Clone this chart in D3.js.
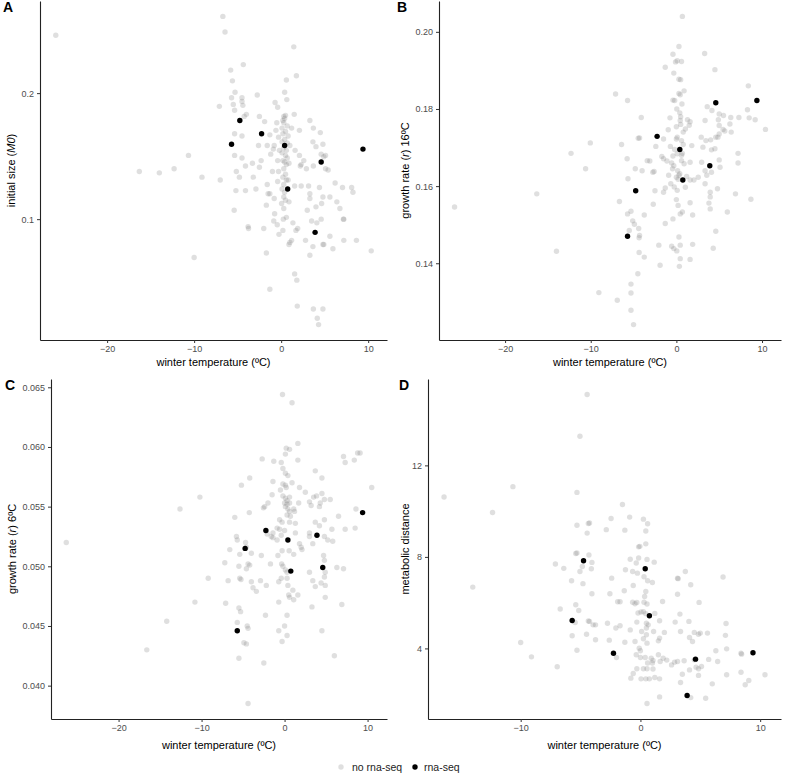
<!DOCTYPE html>
<html><head><meta charset="utf-8">
<script src="https://cdn.jsdelivr.net/npm/d3@7"></script>
<style>body{margin:0;background:#fff}svg{display:block}</style>
</head><body>
<svg id="chart" width="787" height="782"></svg>
<script>
// ---- data (winter temperature ºC, value) ----
const rnaTemp = [-5.7, -4.75, -2.25, 0.4, 0.75, 3.9, 4.6, 9.4];
const rnaSize = [0.151, 0.172, 0.160, 0.150, 0.118, 0.093, 0.137, 0.147];
const rnaGrowth16 = [0.147, 0.1588, 0.1729, 0.1695, 0.1616, 0.1653, 0.1816, 0.1822];
const rnaGrowth6 = [0.0446, 0.0515, 0.0530, 0.0522, 0.0496, 0.0526, 0.0499, 0.0545];
const rnaMetab = [5.22, 7.83, 3.79, 7.48, 5.43, 1.94, 3.53, 3.81];

const sizeNoRna = [[-25.9,0.275],[-6.7,0.305],[-6.45,0.280],[1.45,0.258],[-4.35,0.234],[-5.8,0.227],[1.75,0.220],[-5.6,0.214],[0.6,0.215],[0.4,0.201],[-5.3,0.201],[-2.75,0.198],[-5.7,0.195],[-4.5,0.195],[-4.5,0.191],[-5.5,0.188],[-4.4,0.187],[-7.1,0.186],[-0.7,0.190],[-0.4,0.185],[0.65,0.193],[-5.35,0.182],[-4.25,0.176],[-4.0,0.178],[-2.5,0.176],[-1.9,0.171],[1.5,0.178],[3.3,0.172],[3.7,0.165],[4.5,0.161],[2.1,0.163],[-1.3,0.159],[-4.5,0.158],[-5.35,0.160],[3.65,0.153],[4.8,0.151],[-5.35,0.142],[-4.5,0.140],[-3.3,0.136],[-4.1,0.134],[-5.15,0.130],[-4.8,0.126],[-2.5,0.133],[-3.2,0.126],[-10.65,0.142],[-16.3,0.130],[-14.0,0.129],[-12.3,0.132],[-9.1,0.126],[-7.0,0.124],[-5.2,0.117],[-4.1,0.117],[-2.9,0.118],[-1.5,0.115],[-1.3,0.115],[-1.7,0.108],[-5.4,0.105],[-3.8,0.096],[-3.75,0.095],[-2.0,0.095],[-10.0,0.081],[-1.7,0.083],[-1.3,0.068],[1.55,0.074],[1.8,0.0715],[1.85,0.062],[3.7,0.061],[4.8,0.061],[4.15,0.058],[4.3,0.056],[3.3,0.082],[3.65,0.086],[2.8,0.089],[4.8,0.087],[4.9,0.087],[5.6,0.091],[5.95,0.085],[7.2,0.089],[8.65,0.089],[10.35,0.084],[7.15,0.100],[7.2,0.100],[6.75,0.106],[6.4,0.110],[8.1,0.119],[8.25,0.116],[7.05,0.119],[6.2,0.122],[5.6,0.113],[4.8,0.113],[4.4,0.119],[3.15,0.120],[3.3,0.115],[3.3,0.112],[4.65,0.109],[4.0,0.107],[3.0,0.105],[3.5,0.099],[4.1,0.098],[4.6,0.100],[1.35,0.098],[1.7,0.094],[1.9,0.095],[1.2,0.089],[0.9,0.087],[1.0,0.088],[0.2,0.094],[-0.25,0.092],[-0.85,0.099],[-0.45,0.097],[0.25,0.100],[-0.75,0.103],[0.05,0.109],[0.3,0.106],[0.9,0.110],[0.6,0.101],[2.3,0.120],[1.55,0.120],[0.8,0.124],[-0.4,0.123],[2.2,0.134],[2.9,0.132],[3.7,0.134],[5.1,0.132],[5.4,0.131],[4.9,0.141],[5.1,0.142],[2.6,0.138],[2.3,0.135],[2.1,0.142],[4.0,0.149],[4.6,0.143],[0.9,0.136],[0.3,0.176],[0.4,0.174],[0.2,0.172],[0.5,0.177],[0.3,0.170],[-0.5,0.170],[0.7,0.167],[0.1,0.165],[-0.6,0.163],[0.5,0.162],[0.2,0.160],[0.8,0.158],[-0.3,0.157],[0.4,0.155],[0.1,0.153],[0.7,0.152],[-0.8,0.150],[0.3,0.148],[0.6,0.146],[-0.2,0.146],[0.1,0.144],[0.5,0.142],[0.7,0.140],[0.2,0.138],[-0.4,0.138],[0.4,0.137],[0.6,0.135],[0.3,0.132],[-0.3,0.130],[0.5,0.128],[0.2,0.126],[0.6,0.124],[0.3,0.121],[0.1,0.118],[0.4,0.116],[0.3,0.113],[0.5,0.111],[-1.0,0.130],[-1.2,0.143],[-0.9,0.147],[1.0,0.150],[1.2,0.165],[1.6,0.146],[-1.6,0.150],[-2.6,0.150],[-2.3,0.138],[-1.6,0.121],[-0.8,0.112]];

const growth16NoRna = [[-25.9,0.1546],[0.7,0.204],[0.3,0.1962],[-0.4,0.1942],[3.3,0.1944],[-0.1,0.1922],[0.1,0.1925],[0.6,0.1923],[-1.3,0.1908],[4.5,0.1902],[-0.3,0.1893],[0.3,0.1877],[0.5,0.1876],[-7.1,0.1839],[-5.7,0.1822],[0.3,0.184],[0.45,0.1837],[0.9,0.1847],[8.4,0.186],[-0.4,0.1823],[-0.2,0.1822],[0.65,0.1813],[0.05,0.180],[3.6,0.1806],[4.15,0.1796],[8.3,0.1798],[8.5,0.1777],[9.2,0.1772],[10.4,0.1747],[0.4,0.179],[0.5,0.178],[0.45,0.177],[0.5,0.176],[-0.75,0.1777],[0.0,0.1754],[1.3,0.1772],[1.5,0.1758],[1.6,0.1767],[3.35,0.177],[5.0,0.1787],[5.5,0.1783],[6.35,0.1778],[4.9,0.1772],[5.0,0.1757],[6.25,0.1761],[5.45,0.1747],[5.65,0.1743],[5.0,0.1735],[4.85,0.1727],[7.3,0.1778],[6.4,0.174],[4.6,0.1727],[4.0,0.172],[2.9,0.1727],[3.1,0.1701],[3.45,0.1718],[4.1,0.1694],[4.5,0.1697],[0.8,0.174],[1.05,0.1748],[-0.95,0.1746],[-1.5,0.1722],[0.1,0.1727],[0.0,0.1722],[-0.7,0.1703],[0.6,0.1718],[0.8,0.1708],[1.8,0.1705],[-1.7,0.1677],[-1.5,0.1671],[-0.4,0.1678],[0.1,0.1684],[0.6,0.168],[-0.55,0.166],[-0.3,0.1653],[-0.45,0.1645],[0.6,0.1666],[0.9,0.1658],[0.15,0.164],[0.4,0.1632],[0.3,0.1628],[1.6,0.1662],[2.95,0.1662],[4.1,0.1636],[5.0,0.1668],[5.1,0.1649],[7.2,0.1685],[7.2,0.166],[3.35,0.164],[3.55,0.1628],[2.55,0.1623],[2.05,0.1616],[1.6,0.1616],[-0.65,0.1606],[0.0,0.1623],[0.2,0.1618],[1.05,0.1597],[0.1,0.1589],[0.0,0.1565],[3.35,0.1606],[4.8,0.1593],[3.95,0.1584],[3.95,0.1572],[3.8,0.1556],[3.95,0.1541],[-1.5,0.1584],[-2.5,0.1588],[-2.7,0.1553],[5.95,0.1533],[6.9,0.158],[8.7,0.1566],[4.6,0.1483],[4.3,0.1439],[1.6,0.1557],[1.9,0.1525],[0.7,0.1533],[0.45,0.1528],[-1.3,0.1503],[0.3,0.1468],[-0.55,0.1444],[-0.3,0.1438],[0.45,0.1447],[0.05,0.1432],[-2.05,0.1447],[1.9,0.1449],[-1.9,0.1395],[0.35,0.1392],[0.45,0.1412],[1.6,0.141],[-4.1,0.1778],[-4.45,0.1724],[-4.3,0.1725],[-2.4,0.1703],[-3.4,0.1666],[-4.8,0.1645],[-4.0,0.164],[-5.75,0.1671],[-6.4,0.1708],[-5.65,0.1619],[-2.75,0.1636],[-2.6,0.1638],[-10.05,0.1712],[-12.3,0.1685],[-10.6,0.1645],[-16.3,0.158],[-6.65,0.156],[-5.7,0.1528],[-5.3,0.1535],[-5.1,0.151],[-4.9,0.1501],[-5.5,0.1485],[-4.4,0.149],[-4.3,0.1472],[-4.35,0.1466],[-4.35,0.1428],[-3.75,0.1525],[-3.75,0.1416],[-14.0,0.1431],[-4.5,0.1373],[-5.3,0.1346],[-5.3,0.1323],[-9.05,0.1324],[-6.9,0.1304],[-5.3,0.1278],[-5.0,0.1241],[-0.2,0.1695],[0.7,0.1685],[-1.1,0.1665],[-0.9,0.1628],[-0.25,0.1598],[0.2,0.155],[-0.4,0.1515],[1.2,0.1625],[-3.1,0.1665],[-1.3,0.1595]];

const growth6NoRna = [[-26.3,0.052],[-0.25,0.0644],[0.9,0.0637],[1.6,0.0603],[0.2,0.0599],[0.6,0.0598],[0.1,0.0594],[-2.7,0.059],[-1.3,0.0588],[-0.4,0.0587],[1.6,0.0589],[7.1,0.0592],[7.3,0.0587],[8.4,0.0589],[8.8,0.0595],[9.1,0.0595],[3.7,0.058],[4.5,0.0574],[-4.2,0.0574],[-5.2,0.0568],[-0.2,0.0582],[0.1,0.0578],[0.4,0.0576],[-1.4,0.0571],[-0.2,0.0569],[0.1,0.0568],[0.2,0.0566],[0.9,0.057],[1.8,0.0566],[2.5,0.0562],[10.5,0.0566],[-0.5,0.0564],[-1.5,0.056],[-0.2,0.0559],[0.1,0.0557],[0.3,0.0555],[0.6,0.0558],[-10.2,0.0558],[-12.6,0.0548],[-6.0,0.0541],[-4.25,0.0545],[-2.55,0.0549],[-2.4,0.055],[-2.0,0.0553],[0.0,0.0553],[0.3,0.0552],[0.6,0.0553],[0.1,0.055],[0.4,0.0548],[0.6,0.0546],[0.3,0.0543],[0.7,0.0542],[1.2,0.0546],[1.1,0.0548],[1.7,0.0553],[3.0,0.0554],[3.2,0.0551],[4.2,0.055],[4.8,0.0556],[5.5,0.0556],[4.5,0.0561],[3.85,0.0559],[3.5,0.0558],[4.3,0.0553],[6.5,0.0542],[8.6,0.0548],[-0.6,0.0539],[-0.3,0.0537],[0.6,0.0537],[1.3,0.0536],[3.7,0.0537],[4.8,0.0539],[4.2,0.0534],[5.7,0.0531],[7.3,0.0531],[8.5,0.0532],[-0.9,0.0532],[-0.6,0.0531],[-1.4,0.0528],[0.0,0.053],[1.3,0.0528],[-2.1,0.0527],[-1.6,0.0525],[-1.4,0.0524],[-0.9,0.0522],[-0.4,0.0526],[3.0,0.0528],[3.0,0.0525],[4.8,0.0525],[5.2,0.0522],[5.8,0.0521],[3.4,0.0519],[1.8,0.0519],[2.0,0.0516],[2.1,0.0514],[0.55,0.0513],[1.1,0.051],[-0.3,0.0513],[-0.8,0.0509],[-2.8,0.0509],[-4.6,0.0516],[-4.7,0.052],[-5.8,0.0525],[-5.7,0.0522],[-6.6,0.0514],[-7.2,0.0503],[-4.4,0.0502],[-4.2,0.0501],[-5.5,0.050],[-5.4,0.049],[-5.25,0.0489],[-4.6,0.0498],[-4.0,0.0487],[-3.8,0.0482],[-3.4,0.0479],[-2.9,0.0488],[-2.2,0.0484],[-1.7,0.0502],[-0.35,0.0502],[-0.2,0.050],[0.1,0.0497],[0.3,0.0495],[-0.4,0.049],[-0.7,0.0487],[0.3,0.049],[0.4,0.0484],[1.0,0.048],[0.5,0.0476],[0.6,0.0474],[1.6,0.0476],[1.1,0.0472],[3.0,0.0495],[3.4,0.0488],[3.7,0.0483],[4.4,0.0486],[4.9,0.0484],[4.8,0.0491],[4.9,0.0495],[4.8,0.0505],[4.7,0.0509],[6.3,0.0499],[7.1,0.0498],[4.9,0.0474],[3.3,0.0466],[6.9,0.0468],[-0.7,0.047],[-2.3,0.0459],[0.3,0.0459],[4.5,0.0446],[0.0,0.045],[-0.7,0.0446],[0.3,0.0442],[-0.3,0.0437],[-4.5,0.045],[-4.4,0.0448],[-5.7,0.0453],[-5.3,0.0462],[-5.5,0.0465],[-7.1,0.0469],[-10.8,0.047],[-9.2,0.049],[-6.8,0.0488],[-14.2,0.0454],[-16.6,0.043],[-4.9,0.0436],[-4.6,0.0435],[-5.5,0.0423],[-2.5,0.0419],[6.0,0.0425],[-4.4,0.0385],[-5.4,0.051],[-4.0,0.0511]];

const metabNoRna = [[-4.45,15.1],[-5.05,13.27],[-16.4,10.62],[-10.65,11.07],[-12.35,9.94],[-14.0,6.68],[-5.3,10.82],[-1.5,10.29],[-2.45,9.68],[-0.9,9.74],[-4.35,9.46],[-4.25,9.48],[-5.3,9.38],[0.25,9.65],[0.6,9.45],[-2.85,9.19],[-1.3,9.17],[0.45,9.13],[-4.45,9.04],[0.45,8.57],[-0.15,8.44],[-0.05,8.46],[-5.4,8.15],[-5.3,8.17],[-4.3,8.08],[-4.85,7.58],[-4.05,7.76],[-4.1,7.48],[-7.1,7.69],[-6.4,7.5],[-5.05,7.36],[-0.85,7.9],[-0.15,7.95],[0.55,7.89],[1.15,7.77],[-0.65,7.36],[-0.25,7.29],[-1.25,7.44],[-0.35,7.73],[-2.4,7.07],[0.3,7.13],[1.0,6.88],[3.1,7.07],[3.15,7.05],[3.75,7.36],[6.9,7.12],[4.2,6.78],[0.6,6.96],[-0.6,6.75],[-1.35,6.52],[0.45,6.49],[0.35,6.27],[-5.75,6.96],[-4.8,6.83],[-4.05,6.39],[-2.55,6.39],[3.1,6.37],[-1.9,6.04],[-1.7,6.04],[-0.65,6.02],[-0.3,6.01],[-0.45,5.95],[0.3,6.02],[0.55,5.94],[1.85,6.05],[4.9,6.01],[-5.4,5.91],[-5.15,5.66],[-6.7,5.72],[0.05,5.59],[0.25,5.6],[-0.2,5.55],[0.45,5.52],[1.2,5.53],[3.3,5.5],[-4.35,5.2],[-4.25,5.18],[-5.45,5.13],[-3.95,5.03],[-3.75,5.03],[-2.75,5.1],[-1.7,4.99],[-0.3,5.15],[0.5,5.1],[0.65,5.03],[1.6,5.21],[2.9,5.15],[4.05,5.18],[7.15,5.09],[-2.05,4.89],[-0.85,4.81],[0.1,4.74],[0.5,4.89],[1.1,4.74],[2.0,4.7],[3.35,4.74],[4.5,4.7],[4.85,4.62],[5.0,4.67],[5.6,4.67],[7.1,4.57],[-5.7,4.55],[-4.5,4.62],[-3.75,4.38],[-2.6,4.36],[-1.3,4.27],[-0.45,4.3],[0.25,4.42],[0.55,4.23],[0.5,4.6],[1.5,4.33],[1.6,4.45],[4.1,4.48],[4.35,4.3],[-10.0,4.26],[-5.3,3.92],[-2.0,3.6],[-0.1,4.01],[0.0,3.9],[-0.35,3.72],[0.0,3.6],[0.4,3.6],[0.9,3.57],[1.05,3.47],[1.5,3.72],[1.9,3.57],[0.6,3.36],[1.0,3.36],[1.65,3.43],[2.2,3.49],[2.85,3.4],[3.1,3.43],[3.65,3.46],[4.5,3.5],[5.7,3.52],[6.3,3.9],[7.2,3.98],[8.4,3.79],[8.45,3.75],[6.45,3.43],[-9.1,3.63],[-6.95,3.2],[2.6,3.28],[4.1,3.06],[4.65,3.18],[4.85,3.11],[5.1,3.21],[0.25,3.11],[0.55,3.11],[-0.3,3.11],[1.05,3.1],[3.5,2.87],[-0.6,2.9],[-0.8,2.7],[0.05,2.67],[0.45,2.67],[0.75,2.67],[1.2,2.73],[1.6,2.67],[4.85,2.82],[7.2,2.85],[8.4,2.96],[9.05,2.6],[8.75,2.41],[10.4,2.85],[6.0,2.45],[3.35,2.51],[1.6,1.88],[4.2,1.85],[5.45,1.82],[0.55,1.59]];

const xTicksWide = [-20, -10, 0, 10];
const xTicksNarrow = [-10, 0, 10];
const sizeTicks = [0.1, 0.2];
const growth16Ticks = [0.14, 0.16, 0.18, 0.20];
const growth6Ticks = [0.040, 0.045, 0.050, 0.055, 0.060, 0.065];
const metabTicks = [4, 8, 12];
const legendLabels = ["no rna-seq", "rna-seq"];

// ---- drawing ----
const svg = d3.select("#chart");
const FONT = "'Liberation Sans', Arial, Helvetica, sans-serif";

function expand(ext, f = 0.05) { const r = ext[1] - ext[0]; return [ext[0] - r * f, ext[1] + r * f]; }

function panel(cfg) {
  const all = cfg.gray.concat(cfg.black);
  const xDom = expand(d3.extent(all, d => d[0]));
  let y;
  if (cfg.log) {
    const ld = expand(d3.extent(all, d => Math.log10(d[1])));
    y = d3.scaleLog().domain([10 ** ld[0], 10 ** ld[1]]).range([cfg.b, cfg.t]);
  } else {
    y = d3.scaleLinear().domain(expand(d3.extent(all, d => d[1]))).range([cfg.b, cfg.t]);
  }
  const x = d3.scaleLinear().domain(xDom).range([cfg.l, cfg.r]);
  const g = svg.append("g");

  g.append("g").selectAll("circle").data(cfg.gray).join("circle")
    .attr("cx", d => x(d[0])).attr("cy", d => y(d[1])).attr("r", 2.7)
    .attr("fill", "#7f7f7f").attr("fill-opacity", 0.25);
  g.append("g").selectAll("circle").data(cfg.black).join("circle")
    .attr("cx", d => x(d[0])).attr("cy", d => y(d[1])).attr("r", 2.7)
    .attr("fill", "#000");

  const xa = g.append("g").attr("transform", `translate(0,${cfg.b})`)
    .call(d3.axisBottom(x).tickValues(cfg.xTicks).tickSize(3).tickSizeOuter(0).tickPadding(3).tickFormat(d3.format("d")));
  const ya = g.append("g").attr("transform", `translate(${cfg.l},0)`)
    .call(d3.axisLeft(y).tickValues(cfg.yTicks).tickSize(3).tickSizeOuter(0).tickPadding(3).tickFormat(cfg.yFmt));
  [xa, ya].forEach(a => {
    a.select(".domain").attr("stroke", "#222").attr("stroke-width", 1.1);
    a.selectAll(".tick line").attr("stroke", "#333");
    a.selectAll(".tick text").attr("fill", "#4d4d4d").style("font-family", FONT).style("font-size", "9px");
  });

  g.append("text").attr("x", (cfg.l + cfg.r) / 2).attr("y", cfg.xTitleY)
    .attr("text-anchor", "middle").style("font-family", FONT).style("font-size", "11px")
    .text("winter temperature (ºC)");

  const yt = g.append("text").attr("transform", `translate(${cfg.yTitleX},${(cfg.t + cfg.b) / 2}) rotate(-90)`)
    .attr("text-anchor", "middle").style("font-family", FONT).style("font-size", "11px");
  cfg.yTitle.forEach(p => yt.append("tspan").style("font-style", p[1] ? "italic" : "normal").text(p[0]));

  g.append("text").attr("x", cfg.labX).attr("y", cfg.labY)
    .style("font-family", FONT).style("font-size", "14px").style("font-weight", "bold").text(cfg.label);
}

const zipRna = vals => rnaTemp.map((t, i) => [t, vals[i]]);

panel({ label: "A", labX: 3, labY: 12, l: 40, r: 387, t: 1, b: 340, log: true,
  gray: sizeNoRna, black: zipRna(rnaSize), xTicks: xTicksWide, yTicks: sizeTicks, yFmt: d3.format(".1f"),
  xTitleY: 366, yTitleX: 15, yTitle: [["initial size ("], ["M0", true], [")"]] });
panel({ label: "B", labX: 397, labY: 12, l: 439, r: 781, t: 1, b: 340, log: false,
  gray: growth16NoRna, black: zipRna(rnaGrowth16), xTicks: xTicksWide, yTicks: growth16Ticks, yFmt: d3.format(".2f"),
  xTitleY: 366, yTitleX: 409, yTitle: [["growth rate ("], ["r", true], [") 16ºC"]] });
panel({ label: "C", labX: 5, labY: 390, l: 51, r: 387, t: 379, b: 719, log: false,
  gray: growth6NoRna, black: zipRna(rnaGrowth6), xTicks: xTicksWide, yTicks: growth6Ticks, yFmt: d3.format(".3f"),
  xTitleY: 749, yTitleX: 16, yTitle: [["growth rate ("], ["r", true], [") 6ºC"]] });
panel({ label: "D", labX: 399, labY: 390, l: 428, r: 781, t: 379, b: 719, log: false,
  gray: metabNoRna, black: zipRna(rnaMetab), xTicks: xTicksNarrow, yTicks: metabTicks, yFmt: d3.format("d"),
  xTitleY: 749, yTitleX: 409, yTitle: [["metabolic distance"]] });

// legend
const lg = svg.append("g");
const legItems = [{ fill: "#7f7f7f", op: 0.25, cx: 341, tx: 352 }, { fill: "#000", op: 1, cx: 415, tx: 424 }];
legItems.forEach((it, i) => {
  lg.append("circle").attr("cx", it.cx).attr("cy", 767).attr("r", 2.7).attr("fill", it.fill).attr("fill-opacity", it.op);
  lg.append("text").attr("x", it.tx).attr("y", 771).style("font-family", FONT).style("font-size", "10.5px")
    .attr("fill", "#222").text(legendLabels[i]);
});
</script>
</body></html>
